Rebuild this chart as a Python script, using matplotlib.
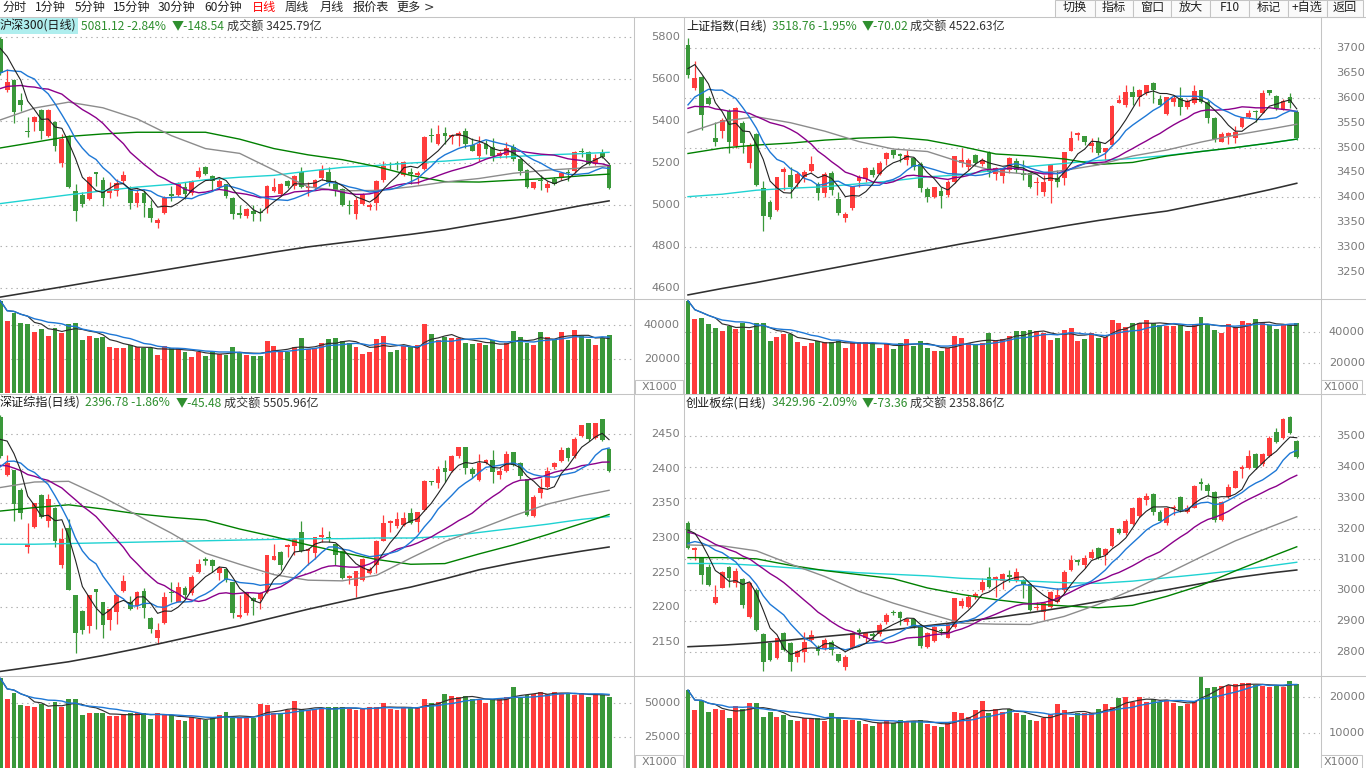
import numpy as np
import pandas as pd
import matplotlib
matplotlib.use("Agg")
import matplotlib.pyplot as plt
from matplotlib.lines import Line2D
from matplotlib.patches import Rectangle

plt.rcParams['font.family'] = ['Noto Sans CJK SC', 'DejaVu Sans']

# ======================= DATA =======================
toolbar_items = ['分时', '1分钟', '5分钟', '15分钟', '30分钟', '60分钟', '日线', '周线', '月线', '报价表', '更多', '>']
toolbar_buttons = ['切换', '指标', '窗口', '放大', 'F10', '标记', '+自选', '返回']

ma_idx = list(range(0, 90, 5)) + [89]

# ---- Panel 1: 沪深300 ----
name1, quote1, chg1, amt1 = '沪深300(日线)', '5081.12 -2.84%', '▼-148.54', '成交额 3425.79亿'
o1 = [5790,5546,5594,5498,5352,5394,5453,5330,5394,5197,
      5330,5066,5047,5026,5154,5117,5058,5066,5114,5074,
      5010,5058,4983,4913,4958,5052,5047,5085,5058,5130,
      5181,5138,5082,5098,5034,4959,4946,4970,4965,4986,
      5066,5053,5114,5090,5154,5079,5079,5127,5157,5101,
      5074,5000,4954,5002,4990,5010,5118,5193,5196,5143,
      5157,5140,5170,5332,5290,5341,5325,5328,5350,5287,
      5234,5290,5277,5234,5239,5274,5218,5167,5079,5120,
      5079,5124,5127,5156,5162,5257,5250,5194,5245,5191]
c1 = [5630,5586,5442,5474,5346,5421,5354,5453,5282,5314,
      5082,4970,5005,5130,5148,5034,5074,5103,5143,5010,
      5058,5010,4935,4927,5034,5042,5101,5053,5114,5162,
      5146,5114,5114,5042,4954,4950,4978,4954,4960,5090,
      5085,5098,5090,5138,5082,5090,5117,5165,5106,5066,
      4999,4995,5022,5046,4999,5114,5186,5190,5192,5202,
      5146,5150,5322,5328,5338,5328,5335,5344,5290,5258,
      5290,5268,5234,5245,5271,5218,5162,5082,5106,5115,
      5098,5100,5149,5152,5250,5253,5194,5223,5230,5081]
h1 = [5800,5650,5600,5533,5418,5425,5458,5458,5398,5340,
      5335,5098,5060,5135,5158,5130,5110,5124,5162,5090,
      5075,5070,5020,4935,5040,5090,5110,5110,5118,5178,
      5185,5140,5130,5100,5036,5000,4985,5000,4985,5092,
      5125,5105,5120,5142,5180,5110,5122,5190,5182,5120,
      5080,5020,5035,5055,5010,5118,5210,5205,5210,5208,
      5175,5160,5330,5365,5383,5373,5340,5350,5365,5320,
      5330,5310,5320,5255,5300,5290,5222,5170,5110,5140,
      5115,5130,5152,5170,5255,5270,5255,5240,5265,5200]
l1 = [5620,5540,5388,5450,5322,5354,5314,5325,5258,5178,
      5078,4922,4990,5020,5090,4994,5030,5040,5100,4980,
      4990,4940,4915,4890,4955,5015,5040,5025,5048,5125,
      5140,5070,5075,5030,4930,4935,4935,4920,4920,4960,
      5060,5040,5080,5075,5080,5040,5075,5120,5090,5042,
      4995,4956,4930,4998,4975,4975,5110,5170,5165,5135,
      5100,5100,5165,5300,5285,5290,5290,5280,5270,5255,
      5210,5240,5210,5225,5225,5210,5140,5080,5075,5070,
      5060,5095,5120,5115,5150,5230,5190,5190,5225,5075]
prior1 = [5380,5400,5430,5450,5470,5490,5510,5530,5545,5605,
          5450,5480,5500,5560,5565,5776,5737,5754,5838]
ma30_1 = [5405,5462,5490,5463,5410,5330,5268,5245,5165,5085,5066,5068,5085,5108,5125,5150,5165,5175,5186]
ma60_1 = [5271,5298,5326,5338,5346,5346,5346,5313,5268,5238,5215,5182,5140,5110,5108,5117,5125,5138,5146]
ma120_1 = [5005,5026,5047,5066,5084,5097,5119,5131,5140,5160,5178,5187,5199,5208,5221,5230,5238,5244,5250]
ma250_1 = [4558,4585,4612,4640,4666,4693,4720,4746,4773,4798,4818,4838,4858,4880,4908,4935,4965,4996,5018]
vol1 = [54300,42500,47200,41300,40600,36000,37600,33500,38400,35500,
        40600,41200,31200,33500,32300,32900,27000,26500,26500,28200,
        26900,26300,26300,22300,27600,26300,26300,24300,21300,24300,
        21900,24300,22700,22300,27000,23700,22300,21800,21800,30600,
        27600,24300,24300,27000,32300,25900,26500,29600,31800,32300,
        30600,29200,27000,23100,24300,31800,33500,24300,25300,27400,
        27000,28200,40600,34900,31200,32900,32300,32300,29600,28800,
        29600,28200,31200,25900,29200,36500,32900,29600,28200,35900,
        32900,31800,35900,31200,37000,33700,31800,28200,32100,34100]
plabels1 = [5800, 5600, 5400, 5200, 5000, 4800, 4600]
vlabels1 = [40000, 20000]

# ---- Panel 2: 上证指数 ----
name2, quote2, chg2, amt2 = '上证指数(日线)', '3518.76 -1.95%', '▼-70.02', '成交额 4522.63亿'
o2 = [3707,3619,3642,3599,3519,3533,3574,3503,3550,3468,
      3527,3418,3391,3374,3451,3445,3428,3441,3453,3427,
      3408,3449,3396,3359,3378,3433,3436,3455,3447,3476,
      3496,3487,3474,3478,3467,3416,3401,3413,3404,3431,
      3469,3460,3485,3467,3488,3447,3443,3455,3472,3449,
      3449,3428,3411,3433,3438,3438,3494,3525,3523,3503,
      3512,3492,3505,3590,3586,3611,3601,3609,3631,3597,
      3568,3592,3599,3582,3589,3616,3592,3559,3512,3523,
      3519,3542,3562,3573,3570,3615,3604,3576,3602,3572]
c2 = [3646,3640,3566,3588,3512,3555,3512,3579,3509,3505,
      3425,3362,3361,3441,3456,3421,3447,3451,3467,3409,
      3447,3414,3369,3366,3421,3441,3459,3445,3469,3488,
      3485,3483,3485,3461,3418,3401,3421,3402,3431,3482,
      3475,3475,3469,3475,3451,3458,3458,3478,3455,3445,
      3421,3431,3431,3465,3431,3492,3519,3530,3512,3510,
      3488,3500,3584,3596,3611,3602,3616,3626,3615,3586,
      3601,3599,3582,3594,3613,3592,3560,3517,3527,3529,
      3532,3559,3569,3571,3609,3609,3579,3594,3589,3519]
h2 = [3721,3675,3645,3603,3552,3560,3578,3582,3553,3510,
      3530,3433,3395,3441,3460,3461,3450,3455,3482,3430,
      3450,3452,3410,3370,3421,3444,3461,3460,3472,3492,
      3496,3490,3495,3480,3470,3420,3421,3420,3434,3483,
      3499,3478,3487,3478,3494,3460,3458,3480,3478,3475,
      3451,3441,3445,3466,3455,3492,3533,3532,3523,3519,
      3522,3500,3586,3606,3627,3624,3617,3626,3632,3605,
      3602,3605,3623,3597,3626,3616,3596,3562,3532,3532,
      3543,3562,3576,3575,3616,3616,3605,3597,3609,3575]
l2 = [3640,3615,3535,3585,3503,3520,3490,3500,3490,3459,
      3422,3332,3355,3372,3414,3398,3420,3430,3450,3395,
      3400,3405,3365,3349,3375,3420,3430,3440,3445,3465,
      3478,3470,3465,3455,3410,3390,3398,3378,3400,3429,
      3460,3455,3462,3462,3440,3435,3428,3448,3448,3435,
      3418,3404,3402,3389,3421,3425,3494,3515,3505,3492,
      3485,3475,3503,3589,3582,3586,3584,3605,3589,3584,
      3566,3584,3566,3578,3588,3589,3550,3512,3512,3507,
      3510,3539,3559,3552,3569,3605,3576,3575,3579,3515]
prior2 = [3560,3580,3590,3600,3590,3570,3560,3560,3560,3550,
          3480,3490,3510,3530,3554,3600,3660,3690,3700]
ma30_2 = [3530,3553,3562,3550,3533,3512,3497,3492,3470,3452,3446,3454,3465,3483,3495,3511,3525,3537,3547]
ma60_2 = [3488,3499,3505,3509,3515,3519,3521,3515,3502,3487,3483,3477,3466,3470,3483,3492,3500,3509,3517]
ma120_2 = [3401,3406,3414,3418,3421,3427,3433,3441,3445,3455,3462,3468,3474,3478,3484,3492,3500,3509,3517]
ma250_2 = [3203,3216,3228,3241,3254,3267,3280,3293,3306,3318,3330,3342,3353,3363,3372,3386,3400,3415,3428]
vol2 = [60000,48400,48800,44800,42600,40600,43700,41900,45800,41100,
        45800,45800,34200,36800,38500,38500,33500,30800,32500,34200,
        33200,33500,34200,29300,33200,33200,33200,32500,29300,32500,
        28600,32500,35300,30800,33800,29500,27500,27500,29300,37200,
        35900,32900,31900,32900,39300,34000,35300,37400,40600,40600,
        41100,40600,39300,34600,36100,41100,42400,34200,35300,39300,
        35700,36800,47500,45800,43200,45800,45300,47500,45300,44500,
        43700,43700,44500,40600,44500,49700,44800,41100,39300,44800,
        42800,47100,45800,48000,45800,44100,41700,44500,44500,45800]
plabels2 = [3700, 3650, 3600, 3550, 3500, 3450, 3400, 3350, 3300, 3250]
pgrid2 = [3700, 3600, 3500, 3400, 3300]
vlabels2 = [40000, 20000]

# ---- Panel 3: 深证综指 ----
name3, quote3, chg3, amt3 = '深证综指(日线)', '2396.78 -1.86%', '▼-45.48', '成交额 5505.96亿'
o3 = [2475,2391,2398,2369,2287,2316,2362,2324,2343,2261,
      2314,2218,2194,2172,2226,2208,2181,2193,2223,2208,
      2201,2223,2185,2156,2177,2222,2208,2228,2220,2251,
      2269,2268,2250,2255,2237,2186,2191,2213,2212,2222,
      2268,2280,2287,2288,2308,2281,2278,2302,2301,2291,
      2281,2242,2231,2239,2250,2261,2296,2321,2318,2319,
      2336,2323,2340,2382,2379,2401,2397,2418,2431,2400,
      2384,2408,2413,2391,2397,2425,2408,2385,2332,2365,
      2374,2402,2411,2430,2418,2448,2467,2444,2472,2429]
c3 = [2418,2408,2349,2336,2292,2350,2331,2356,2296,2299,
      2225,2162,2167,2218,2222,2174,2197,2218,2238,2198,
      2222,2199,2169,2167,2215,2220,2229,2218,2244,2262,
      2267,2260,2257,2239,2191,2189,2220,2209,2221,2275,
      2274,2261,2290,2299,2281,2284,2302,2305,2299,2276,
      2242,2245,2252,2270,2255,2295,2321,2325,2327,2329,
      2321,2337,2382,2381,2400,2395,2419,2431,2401,2393,
      2408,2413,2395,2397,2422,2406,2389,2333,2360,2373,
      2397,2408,2427,2416,2443,2463,2443,2466,2442,2397]
h3 = [2478,2420,2398,2372,2321,2350,2364,2363,2345,2314,
      2328,2218,2196,2218,2226,2208,2198,2219,2246,2216,
      2224,2227,2186,2177,2222,2236,2236,2230,2247,2270,
      2272,2269,2259,2256,2237,2217,2221,2215,2222,2276,
      2292,2281,2291,2300,2324,2285,2302,2316,2310,2292,
      2282,2247,2252,2271,2258,2297,2333,2326,2338,2338,
      2344,2338,2384,2382,2404,2413,2420,2432,2432,2403,
      2422,2414,2427,2403,2426,2425,2410,2386,2362,2387,
      2403,2410,2432,2431,2446,2464,2467,2467,2472,2430]
l3 = [2415,2389,2324,2328,2279,2314,2329,2316,2287,2257,
      2225,2133,2161,2162,2169,2155,2167,2175,2222,2196,
      2198,2185,2162,2146,2175,2208,2207,2212,2217,2249,
      2261,2251,2239,2237,2185,2184,2189,2189,2198,2220,
      2268,2253,2273,2275,2280,2261,2270,2294,2294,2261,
      2240,2233,2214,2238,2248,2250,2295,2308,2314,2318,
      2320,2309,2339,2377,2373,2381,2396,2415,2393,2387,
      2382,2407,2380,2386,2396,2404,2386,2332,2331,2358,
      2373,2400,2410,2412,2416,2446,2441,2443,2441,2395]
prior3 = [2420,2415,2410,2405,2400,2400,2405,2410,2405,2400,
          2330,2345,2365,2380,2397,2420,2440,2460,2475]
ma30_3 = [2373,2381,2382,2359,2333,2307,2278,2262,2247,2239,2238,2246,2271,2295,2313,2332,2349,2361,2369]
ma60_3 = [2339,2344,2348,2342,2335,2330,2326,2313,2302,2290,2279,2269,2262,2263,2277,2290,2305,2321,2334]
ma120_3 = [2291,2291,2292,2293,2294,2295,2296,2297,2298,2299,2299,2300,2300,2302,2308,2314,2320,2327,2331]
ma250_3 = [2107,2114,2121,2130,2140,2151,2162,2173,2185,2197,2208,2219,2229,2241,2254,2264,2273,2281,2287]
vol3 = [68300,52700,57700,48500,47800,47300,49300,45300,51000,46800,
        52700,52700,41100,42800,42800,42300,40400,40400,41100,42300,
        42800,42300,38100,42300,41800,41100,37400,36700,39900,37900,
        37400,39900,41100,43100,38600,39100,38600,39100,49300,48500,
        42300,41800,44800,51500,45300,44800,45600,45600,46800,46800,
        46800,45300,44800,45600,47300,46800,49800,45600,44800,47300,
        46100,47300,52700,49800,51000,56400,55200,54700,55200,52700,
        52200,49800,52700,53500,54700,62100,54700,55900,56700,58400,
        56700,57900,57200,56700,55900,57200,54700,56700,56000,54700]
plabels3 = [2450, 2400, 2350, 2300, 2250, 2200, 2150]
vlabels3 = [50000, 25000]

# ---- Panel 4: 创业板综 ----
name4, quote4, chg4, amt4 = '创业板综(日线)', '3429.96 -2.09%', '▼-73.36', '成交额 2358.86亿'
o4 = [3217,3131,3106,3077,2958,3009,3077,3023,3037,2915,
      3001,2858,2829,2780,2861,2829,2786,2800,2840,2815,
      2815,2834,2793,2754,2813,2872,2847,2858,2858,2899,
      2931,2929,2899,2907,2888,2818,2836,2872,2847,2883,
      2951,2947,2980,3001,3044,3034,3030,3050,3034,3034,
      3020,2944,2929,2947,2964,3001,3066,3098,3082,3104,
      3138,3114,3145,3198,3184,3214,3242,3292,3310,3254,
      3217,3265,3303,3252,3267,3349,3341,3317,3228,3303,
      3332,3392,3397,3440,3407,3435,3511,3491,3562,3483]
c4 = [3136,3138,3050,3017,2980,3060,3039,3063,2953,3023,
      2872,2770,2775,2845,2807,2770,2804,2834,2856,2804,
      2840,2807,2772,2786,2861,2867,2861,2854,2888,2920,
      2926,2912,2907,2883,2821,2861,2883,2869,2890,2974,
      2966,2980,2987,3028,3012,3044,3052,3044,3060,3020,
      2937,2947,2958,2994,2985,3060,3098,3093,3106,3125,
      3104,3134,3201,3184,3224,3265,3300,3306,3254,3224,
      3267,3271,3260,3267,3338,3343,3321,3228,3285,3335,
      3386,3400,3435,3397,3440,3494,3481,3554,3508,3430]
h4 = [3224,3141,3108,3084,3017,3062,3080,3073,3041,3026,
      3008,2862,2834,2847,2864,2833,2807,2866,2872,2822,
      2845,2840,2796,2792,2864,2877,2866,2866,2894,2926,
      2937,2934,2912,2911,2890,2864,2886,2877,2893,2977,
      2975,2985,2995,3041,3077,3048,3055,3066,3073,3038,
      3023,2963,2964,2998,3009,3066,3114,3101,3114,3134,
      3141,3136,3203,3201,3231,3271,3303,3314,3314,3260,
      3271,3276,3305,3276,3342,3362,3346,3320,3288,3343,
      3390,3405,3454,3443,3443,3500,3524,3558,3565,3486]
l4 = [3134,3098,3020,3015,2955,3007,3012,3012,2942,2912,
      2869,2740,2771,2778,2804,2740,2770,2770,2834,2791,
      2807,2791,2770,2743,2811,2847,2834,2840,2854,2893,
      2920,2888,2888,2880,2815,2815,2834,2856,2845,2880,
      2942,2942,2972,2996,3009,2980,3006,3028,3028,2974,
      2933,2937,2904,2942,2958,2991,3063,3082,3071,3101,
      3101,3082,3141,3181,3179,3211,3238,3276,3244,3222,
      3213,3244,3255,3249,3265,3324,3306,3220,3224,3300,
      3330,3362,3392,3392,3403,3432,3475,3489,3504,3429]
prior4 = [3240,3250,3245,3235,3225,3220,3215,3210,3205,3195,
          3080,3095,3110,3120,3140,3190,3215,3225,3209]
ma30_4 = [3147,3144,3128,3085,3045,2997,2959,2926,2894,2891,2890,2916,2955,3002,3054,3108,3160,3204,3238]
ma60_4 = [3106,3106,3102,3081,3064,3051,3038,3008,2987,2970,2957,2950,2944,2952,2981,3016,3063,3107,3141]
ma120_4 = [3087,3087,3081,3073,3065,3057,3052,3047,3039,3035,3030,3025,3023,3030,3041,3052,3064,3079,3091]
ma250_4 = [2818,2823,2830,2840,2851,2861,2873,2886,2899,2912,2928,2945,2964,2983,3002,3022,3041,3056,3066]
vol4 = [21900,16400,18900,15900,16600,16400,14100,17500,16600,18400,
        18200,14500,15900,14500,15000,13600,13200,14300,14100,14100,
        13400,15500,14100,13600,13600,13200,12500,12000,12700,13600,
        12900,13600,13400,13200,13600,12500,12000,11800,12700,15900,
        15600,14500,16400,18900,15500,16600,15900,16600,15500,15000,
        13600,13400,14100,15300,18000,16400,14500,15500,15500,15600,
        16600,18000,17300,19600,20100,18700,19900,18700,19400,18700,
        19200,18400,17500,18000,19000,25500,22400,22700,23100,23300,
        23600,23800,23800,23300,23100,22900,23300,22900,24500,23600]
plabels4 = [3500, 3400, 3300, 3200, 3100, 3000, 2900, 2800]
vlabels4 = [20000, 10000]

# ======================= DRAWING =======================
W, H = 1366, 768
fig = plt.figure(figsize=(W / 100, H / 100), dpi=100)
fig.patch.set_facecolor('white')

STEP = 6.84
RED = '#FF3C3C'
GREEN = '#3A983A'
GRID = '#B0B0B0'
LINE = '#C4C4C4'
AXC = '#7A7A7A'
VALC = '#2F8F2F'
C_MA5, C_MA10, C_MA20 = '#222222', '#1E78D6', '#8B008B'
C_MA30, C_MA60, C_MA120, C_MA250 = '#8C8C8C', '#008000', '#1FD2D2', '#303030'


def fx(x):
    return x / W


def fy(y):
    return 1 - y / H


def rect(x0, y0, x1, y1):
    return [x0 / W, 1 - y1 / H, (x1 - x0) / W, (y1 - y0) / H]


def hline(y, x0=0, x1=W, color=LINE, lw=0.75):
    fig.add_artist(Line2D([fx(x0), fx(x1)], [fy(y), fy(y)], color=color, lw=lw,
                          transform=fig.transFigure, zorder=10))


def vline(x, y0, y1, color=LINE, lw=0.75):
    fig.add_artist(Line2D([fx(x), fx(x)], [fy(y0), fy(y1)], color=color, lw=lw,
                          transform=fig.transFigure, zorder=10))


def txt(x, y, s, size=8.7, color='#222222', ha='left', **kw):
    fig.text(fx(x), fy(y), s, fontsize=size, color=color, ha=ha, va='center', zorder=30, **kw)


def box(x0, y0, x1, y1, fc='none', ec=LINE, lw=0.75, z=5):
    fig.add_artist(Rectangle((fx(x0), fy(y1)), (x1 - x0) / W, (y1 - y0) / H, facecolor=fc,
                             edgecolor=ec, lw=lw, transform=fig.transFigure, zorder=z))


def val_at(cal, y):
    (v1, y1), (v2, y2) = cal
    return v1 + (y - y1) * (v2 - v1) / (y2 - y1)


def y_at(cal, v):
    (v1, y1), (v2, y2) = cal
    return y1 + (v - v1) * (y2 - y1) / (v2 - v1)


def draw_panel(px_l, px_r, y_top, y_mid, y_bot, x0, ohlc, prior, mas, vol,
               pcal, vcal, pgrid, vgrid):
    o, h, l, c = (np.asarray(a, float) for a in ohlc)
    n = len(c)
    idx = np.arange(n)
    xlim = ((px_l - x0) / STEP, (px_r - x0) / STEP)
    cols = np.where(c >= o, RED, GREEN)

    # ---- price ----
    axp = fig.add_axes(rect(px_l, y_top, px_r, y_mid))
    axp.set_xlim(*xlim)
    axp.set_ylim(val_at(pcal, y_mid), val_at(pcal, y_top))
    axp.axis('off')
    axp.hlines(pgrid, xlim[0], xlim[1], colors=GRID, linestyles=(0, (1.3, 3.5)), lw=0.8, zorder=0)
    onepx = abs(val_at(pcal, 1) - val_at(pcal, 0))
    axp.vlines(idx, l, h, colors=cols, lw=0.9, zorder=2)
    axp.bar(idx, np.maximum(np.abs(c - o), onepx), bottom=np.minimum(o, c), width=0.7,
            color=cols, lw=0, zorder=3)
    ma30, ma60, ma120, ma250 = mas
    axp.plot(ma_idx, ma250, color=C_MA250, lw=1.15, zorder=4)
    axp.plot(ma_idx, ma120, color=C_MA120, lw=1.0, zorder=4)
    axp.plot(ma_idx, ma60, color=C_MA60, lw=1.0, zorder=4)
    axp.plot(ma_idx, ma30, color=C_MA30, lw=1.0, zorder=4)
    full = pd.Series(np.concatenate([np.asarray(prior, float), c]))
    k0 = len(prior)
    for win, colr, lw in ((20, C_MA20, 1.0), (10, C_MA10, 1.0), (5, C_MA5, 0.8)):
        ma = full.rolling(win).mean().to_numpy()[k0:]
        axp.plot(idx, ma, color=colr, lw=lw, zorder=5)

    # ---- volume ----
    axv = fig.add_axes(rect(px_l, y_mid, px_r, y_bot))
    axv.set_xlim(*xlim)
    axv.set_ylim(val_at(vcal, y_bot), val_at(vcal, y_mid))
    axv.axis('off')
    axv.hlines(vgrid, xlim[0], xlim[1], colors=GRID, linestyles=(0, (1.3, 3.5)), lw=0.8, zorder=0)
    axv.bar(idx, vol, width=0.72, color=cols, lw=0, zorder=2)
    vs = pd.Series(np.asarray(vol, float))
    axv.plot(idx, vs.rolling(5, min_periods=1).mean(), color='#303030', lw=0.85, zorder=3)
    axv.plot(idx, vs.rolling(10, min_periods=1).mean(), color=C_MA10, lw=1.0, zorder=3)


def labels(vals, cal, xr):
    for v in vals:
        txt(xr, y_at(cal, v), str(v), size=8.2, color=AXC, ha='right', family='DejaVu Sans')


def title(xs, y, parts, hl=False):
    name, quote, chg, amt = parts
    if hl:
        box(0, y - 8, 78, y + 8, fc='#AFEEEE', ec='none', z=1)
    txt(xs[0], y, name, color='#1A1A1A')
    txt(xs[1], y, quote, color=VALC)
    txt(xs[2], y, chg, color=VALC)
    txt(xs[3], y, amt, color='#333333')


# panel geometry (pixels)
LEFT = (0, 634)
RIGHT = (684, 1320)
TOP = (17, 298.5, 394)
BOT = (395, 676, 768)

cal_p1, cal_v1 = ((5800, 37.3), (4600, 288.3)), ((40000, 325), (20000, 359))
cal_p2, cal_v2 = ((3700, 48.3), (3250, 271.6)), ((40000, 331.7), (20000, 362.7))
cal_p3, cal_v3 = ((2450, 434.3), (2150, 641.7)), ((50000, 703), (25000, 736.7))
cal_p4, cal_v4 = ((3500, 435.7), (2800, 652.3)), ((20000, 697), (10000, 733))

draw_panel(*LEFT, *TOP, 0.3, (o1, h1, l1, c1), prior1, (ma30_1, ma60_1, ma120_1, ma250_1), vol1,
           cal_p1, cal_v1, plabels1, vlabels1)
draw_panel(*RIGHT, *TOP, 688.0, (o2, h2, l2, c2), prior2, (ma30_2, ma60_2, ma120_2, ma250_2), vol2,
           cal_p2, cal_v2, pgrid2, vlabels2)
draw_panel(*LEFT, *BOT, 0.3, (o3, h3, l3, c3), prior3, (ma30_3, ma60_3, ma120_3, ma250_3), vol3,
           cal_p3, cal_v3, plabels3, vlabels3)
draw_panel(*RIGHT, *BOT, 688.0, (o4, h4, l4, c4), prior4, (ma30_4, ma60_4, ma120_4, ma250_4), vol4,
           cal_p4, cal_v4, plabels4, vlabels4)

# axis labels
labels(plabels1, cal_p1, 680)
labels(vlabels1, cal_v1, 680)
labels(plabels2, cal_p2, 1365)
labels(vlabels2, cal_v2, 1365)
labels(plabels3, cal_p3, 680)
labels(vlabels3, cal_v3, 680)
labels(plabels4, cal_p4, 1365)
labels(vlabels4, cal_v4, 1365)

# X1000 boxes
for (bx0, by0, bx1, by1) in ((635, 380, 683, 393.5), (1321, 380, 1362, 393.5),
                             (635, 755, 683, 768), (1321, 755, 1362, 768)):
    box(bx0, by0, bx1, by1, fc='white', ec=LINE, z=12)
    txt((bx0 + bx1) / 2, (by0 + by1) / 2 + 0.5, 'X1000', size=8.0, color=AXC, ha='center',
        family='DejaVu Sans')

# titles
title((0, 81, 172, 227), 26, (name1, quote1, chg1, amt1), hl=True)
title((686, 772, 862, 910), 26, (name2, quote2, chg2, amt2))
title((0, 85, 176, 224), 403, (name3, quote3, chg3, amt3))
title((686, 772, 862, 910), 403, (name4, quote4, chg4, amt4))

# frame lines
hline(16.5)
hline(298.5)
hline(394)
hline(676)
vline(634, 16.5, 768)
vline(684, 16.5, 768)
vline(1320.5, 16.5, 768)

# toolbar
tb_x = [2, 35, 75, 113, 158, 204, 252, 285, 320, 353, 396, 424]
for s, x in zip(toolbar_items, tb_x):
    if s == '>':
        txt(x, 7.5, s, size=9, color='#333333', family='DejaVu Sans')
    else:
        txt(x, 7.5, s, color='#FF0000' if s == '日线' else '#222222')
btn_edges = [1055, 1095, 1133, 1171, 1210, 1249, 1288, 1327, 1363]
for i, s in enumerate(toolbar_buttons):
    a, b = btn_edges[i], btn_edges[i + 1]
    box(a, 0, b, 16.5, fc='#FAFAFA', ec=LINE, z=4)
    txt((a + b) / 2, 7.5, s, ha='center', color='#222222')

fig.savefig('out.png', dpi=100, facecolor='white')
